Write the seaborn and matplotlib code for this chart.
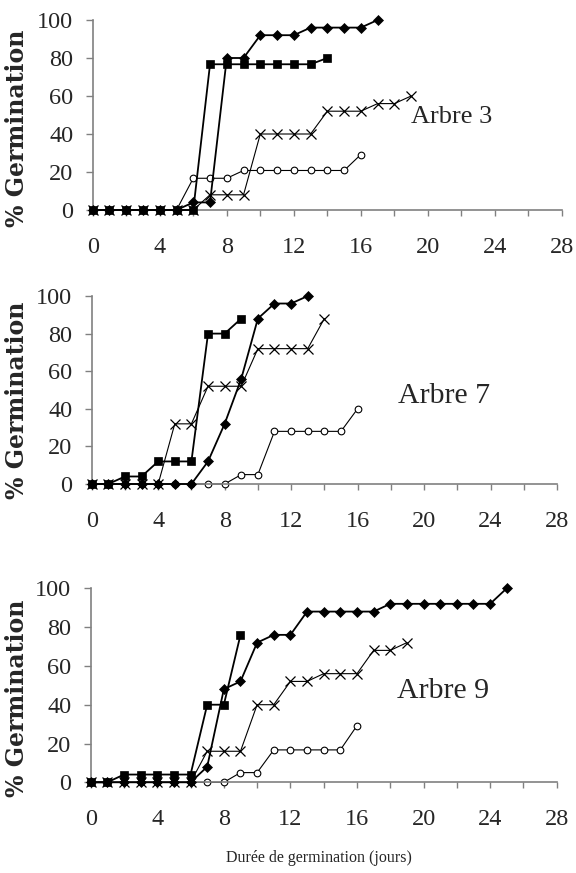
import matplotlib
matplotlib.use("Agg")
import matplotlib.pyplot as plt
import seaborn as sns

sns.set_style("ticks")
plt.rcParams['font.family'] = ['Liberation Serif', 'DejaVu Serif']

# ---- data (% germination per day, day index = position) ----
a3_diamond = [0, 0, 0, 0, 0, 0, 4, 4, 80, 80, 92, 92, 92, 96, 96, 96, 96, 100]
a3_square = [0, 0, 0, 0, 0, 0, 0, 76.7, 76.7, 76.7, 76.7, 76.7, 76.7, 76.7, 80]
a3_cross = [0, 0, 0, 0, 0, 0, 0, 8, 8, 8, 40, 40, 40, 40, 52, 52, 52, 56, 56, 60]
a3_circle = [0, 0, 0, 0, 0, 0, 16.7, 16.7, 16.7, 20.8, 20.8, 20.8, 20.8, 20.8, 20.8, 20.8, 29.2]

a7_diamond = [0, 0, 0, 0, 0, 0, 0, 12, 32, 56, 88, 96, 96, 100]
a7_square = [0, 0, 4, 4, 12, 12, 12, 80, 80, 88]
a7_cross = [0, 0, 0, 0, 0, 32, 32, 52, 52, 52, 72, 72, 72, 72, 88]
a7_circle = [0, 0, 0, 0, 0, 0, 0, 0, 0, 5, 5, 28, 28, 28, 28, 28, 40]

a9_diamond = [0, 0, 0, 0, 0, 0, 0, 8, 48, 52, 72, 76, 76, 88, 88, 88, 88, 88,
              92, 92, 92, 92, 92, 92, 92, 100]
a9_square = [0, 0, 4, 4, 4, 4, 4, 40, 40, 76]
a9_cross = [0, 0, 0, 0, 0, 0, 0, 16, 16, 16, 40, 40, 52, 52, 56, 56, 56, 68, 68, 72]
a9_circle = [0, 0, 0, 0, 0, 0, 0, 0, 0, 5, 5, 16.7, 16.7, 16.7, 16.7, 16.7, 29.2]

panel_titles = ["Arbre 3", "Arbre 7", "Arbre 9"]
x_ticks = [0, 4, 8, 12, 16, 20, 24, 28]
y_ticks = [0, 20, 40, 60, 80, 100]
y_label = "% Germination"
x_label = "Durée de germination (jours)"

panels = [
    dict(circle=a3_circle, cross=a3_cross, diamond=a3_diamond, square=a3_square),
    dict(circle=a7_circle, cross=a7_cross, diamond=a7_diamond, square=a7_square),
    dict(circle=a9_circle, cross=a9_cross, diamond=a9_diamond, square=a9_square),
]

styles = {
    'circle': dict(marker='o', markersize=4.8, markerfacecolor='white',
                   markeredgecolor='black', markeredgewidth=0.8, linewidth=0.8, zorder=2),
    'cross': dict(marker='x', markersize=6.5, markeredgecolor='black',
                  markeredgewidth=0.9, linewidth=0.8, zorder=3),
    'diamond': dict(marker='D', markersize=5.2, markerfacecolor='black',
                    markeredgecolor='black', markeredgewidth=0.5, linewidth=1.3, zorder=4),
    'square': dict(marker='s', markersize=5.8, markerfacecolor='black',
                   markeredgecolor='black', markeredgewidth=0.5, linewidth=1.3, zorder=5),
}

W, H = 576, 873
fig = plt.figure(figsize=(W / 100, H / 100), dpi=100)

# axes boxes in pixels: left, right, top, bottom
boxes = [(92.7, 562, 20, 210), (91.7, 557, 296, 484), (90.7, 556.7, 588.3, 782.3)]
text_pos = [(21.4, 49, 19), (21.2, 47, 21.5), (21.2, 47, 21.5)]
label_centers = [(17, 128), (17, 400), (17, 698)]

gray = '#808080'
for i, (l, r, t, b) in enumerate(boxes):
    ax = fig.add_axes([l / W, (H - b) / H, (r - l) / W, (b - t) / H])
    for name in ['circle', 'cross', 'diamond', 'square']:
        vals = panels[i][name]
        days = list(range(len(vals)))
        sns.lineplot(x=days, y=vals, ax=ax, color='black', errorbar=None,
                     clip_on=False, **styles[name])
    ax.set_xlim(0, 28)
    ax.set_ylim(0, 100)
    ax.set_xticks(x_ticks)
    ax.set_xticks(list(range(0, 29, 2)), minor=True)
    ax.set_yticks(y_ticks)
    ax.tick_params(axis='x', which='both', length=4.3, width=1, color=gray,
                   direction='out', labelsize=17.5, pad=15)
    ax.tick_params(axis='y', which='both', length=5, width=1, color=gray,
                   direction='out', labelsize=17.5, pad=9)
    for s in ['top', 'right']:
        ax.spines[s].set_visible(False)
    for s in ['left', 'bottom']:
        ax.spines[s].set_color(gray)
        ax.spines[s].set_linewidth(1.2)
    ax.set_ylabel(y_label, family=['DejaVu Serif'], fontweight='bold', fontsize=17,
                  va='center', ha='center')
    cx, cy = label_centers[i]
    ax.yaxis.set_label_coords((cx - l) / (r - l), (b - cy) / (b - t))
    ax.set_xlabel('')
    tx, ty, fs = text_pos[i]
    ax.text(tx, ty, panel_titles[i], ha='center', va='center', fontsize=fs)

fig.text(319 / W, 1 - 858 / H, x_label, ha='center', va='center', fontsize=11.5)

fig.savefig('out.png', dpi=100)
